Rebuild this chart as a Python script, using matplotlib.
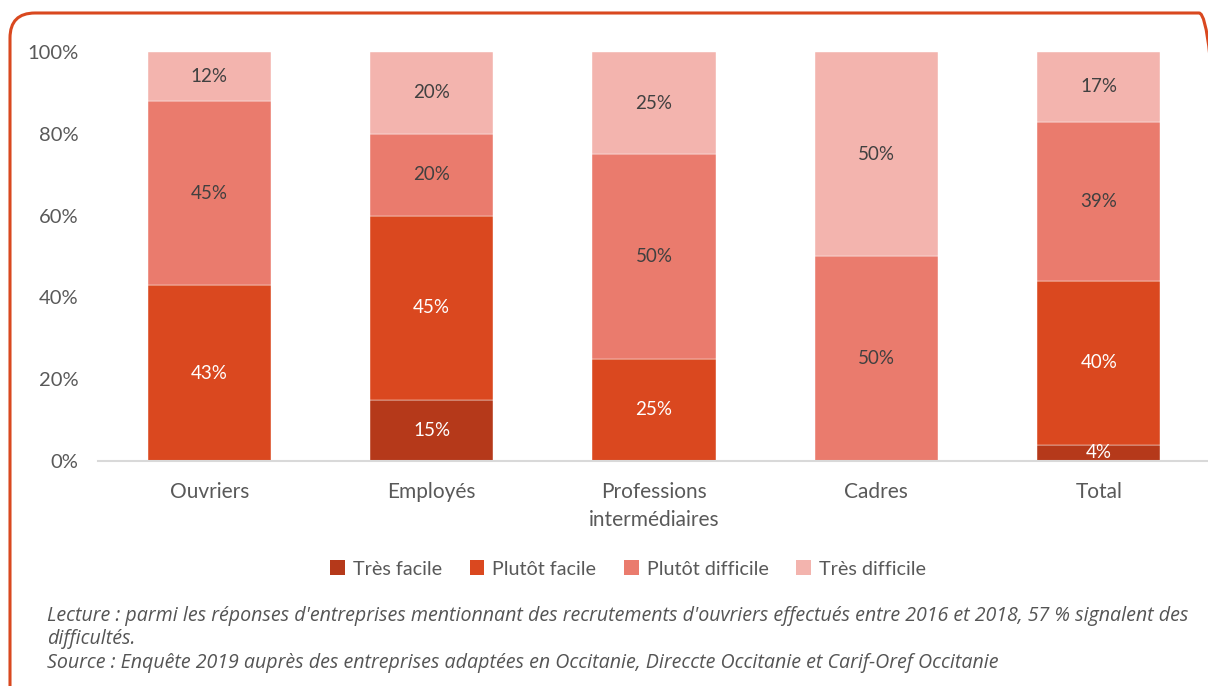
import numpy as np
import matplotlib.pyplot as plt
from matplotlib.patches import FancyBboxPatch, Patch

plt.rcParams['font.family'] = ['Lato', 'DejaVu Sans']

categories = ['Ouvriers', 'Employés', 'Professions\nintermédiaires', 'Cadres', 'Total']
series_names = ['Très facile', 'Plutôt facile', 'Plutôt difficile', 'Très difficile']
tres_facile = [0, 15, 0, 0, 4]
plutot_facile = [43, 45, 25, 0, 40]
plutot_difficile = [45, 20, 50, 50, 39]
tres_difficile = [12, 20, 25, 50, 17]
y_ticks = [0, 20, 40, 60, 80, 100]

colors = ['#B5391A', '#DA481F', '#EA7B6D', '#F3B4AE']
text_colors = ['white', 'white', '#404040', '#404040']

fig = plt.figure(figsize=(12.08, 6.86), dpi=100)
ax = fig.add_axes([98 / 1208, 225 / 686, 1112 / 1208, 409 / 686])

x = np.arange(len(categories))
bottom = np.zeros(len(categories))
series = [tres_facile, plutot_facile, plutot_difficile, tres_difficile]
for vals, name, col, tcol in zip(series, series_names, colors, text_colors):
    vals = np.array(vals, dtype=float)
    ax.bar(x, vals, width=0.554, bottom=bottom, color=col, label=name,
           edgecolor='white', linewidth=0.3)
    for xi, v, b in zip(x, vals, bottom):
        if v > 0:
            ax.text(xi, b + v / 2, f'{int(v)}%', ha='center', va='center',
                    color=tcol, fontsize=13.5)
    bottom += vals

ax.set_xlim(-0.5, 4.5)
ax.set_ylim(0, 100)
ax.set_yticks(y_ticks)
ax.set_yticklabels([f'{t}%' for t in y_ticks])
ax.set_xticks(x)
ax.set_xticklabels(categories, linespacing=1.5)
ax.tick_params(axis='both', length=0, labelsize=14.5, colors='#595959')
ax.tick_params(axis='x', labelsize=15, pad=15)
ax.tick_params(axis='y', pad=14)
for s in ['top', 'right', 'left']:
    ax.spines[s].set_visible(False)
ax.spines['bottom'].set_color('#D9D9D9')
ax.spines['bottom'].set_linewidth(1.5)

handles = [Patch(facecolor=c, label=n) for c, n in zip(colors, series_names)]
leg = fig.legend(handles=handles, loc='center', bbox_to_anchor=(628 / 1208, 1 - 569 / 686),
                 ncol=4, frameon=False, fontsize=14.2, handlelength=0.75, handleheight=0.75,
                 handletextpad=0.4, columnspacing=1.4)
for t in leg.get_texts():
    t.set_color('#595959')

cap_kw = dict(fontsize=14.1, style='italic', color='#555555', ha='left', va='center',
              family=['Open Sans', 'DejaVu Sans'])
fig.text(47 / 1208, 1 - 616 / 686,
         "Lecture : parmi les réponses d'entreprises mentionnant des recrutements d'ouvriers effectués entre 2016 et 2018, 57 % signalent des",
         **cap_kw)
fig.text(47 / 1208, 1 - 639 / 686, 'difficultés.', **cap_kw)
fig.text(47 / 1208, 1 - 663 / 686,
         'Source : Enquête 2019 auprès des entreprises adaptées en Occitanie, Direccte Occitanie et Carif-Oref Occitanie',
         **cap_kw)

frame = FancyBboxPatch((0.10, -0.4), 12.14, 7.13,
                       boxstyle='round,pad=0,rounding_size=0.25',
                       transform=fig.dpi_scale_trans, fill=False,
                       edgecolor='#D9481F', linewidth=2.2, clip_on=False)
fig.patches.append(frame)

fig.savefig('out.png', dpi=100)
